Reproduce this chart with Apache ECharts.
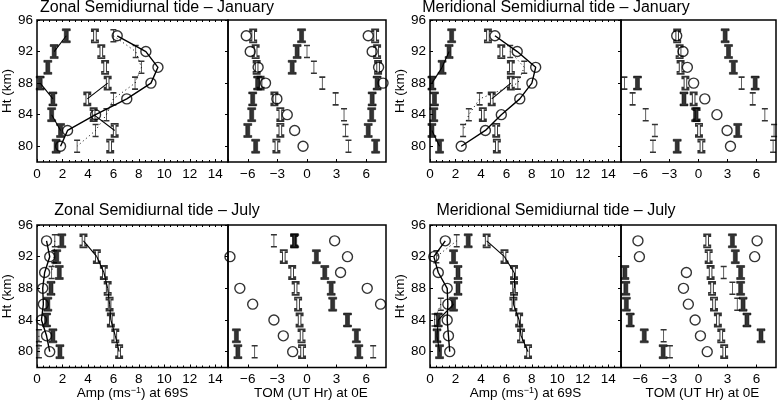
<!DOCTYPE html>
<html><head><meta charset="utf-8">
<script src="https://cdn.jsdelivr.net/npm/echarts@6/dist/echarts.min.js"></script>
<style>html,body{margin:0;padding:0;background:#fff}#c{width:778px;height:401px}</style>
</head><body><div id="c"></div>
<script>
// ---------------- data ----------------
const heights = [94, 92, 90, 88, 86, 84, 82, 80];
const ampTicks = [0, 2, 4, 6, 8, 10, 12, 14];
const phaseTicks = [-6, -3, 0, 3, 6];
const htTicks = [80, 84, 88, 92, 96];

// Zonal, January
const zonJanAmpFilled = [2.3, 1.35, 0.85, 0.25, 1.25, 1.15, 1.85, 1.5];
const zonJanAmpOpen   = [4.55, 5.05, 5.35, 5.55, 3.95, 4.45, 6.1, 5.75];
const zonJanAmpModel  = [6.3, 8.55, 9.5, 8.95, 7.05, 4.6, 2.4, 1.85];
const zonJanAmpThin   = [6.0, 7.75, 8.2, 7.7, 6.0, 5.45, 4.6, 3.15];
const zonJanFilledLinks = [1, 0, 0, 1, 0, 1, 0];
const zonJanOpenLinks   = [0, 0, 0, 1, 0, 1, 0];
const zonJanPhFilled  = [-0.55, -1.0, -1.5, -5.0, -5.5, -5.6, -6.0, -5.2];
const zonJanPhFilled2 = [null, null, null, 7.1, 6.6, 6.55, 6.2, 6.95];
const zonJanPhOpen    = [-5.45, -5.2, -5.1, -4.7, -3.3, -2.7, -2.7, -3.1];
const zonJanPhOpen2   = [6.9, 7.1, 7.2, null, null, null, null, null];
const zonJanPhModel   = [-6.15, -5.75, -4.95, -4.2, -3.05, -2.0, -1.25, -0.4];
const zonJanPhModel2  = [6.2, 6.6, 7.25, 7.7, null, null, null, null];
const zonJanPhThin    = [null, 0.0, 0.7, 1.55, 2.9, 3.75, 3.9, 4.2];
const zonJanPhThin2   = [null, null, null, null, null, null, null, null];

// Meridional, January
const merJanAmpFilled = [1.7, 1.5, 0.95, 0.15, 0.35, 0.3, 0.15, 0.75];
const merJanAmpOpen   = [4.55, 5.6, 6.35, 6.35, 4.85, 4.15, 5.2, 5.25];
const merJanAmpModel  = [5.1, 6.85, 8.3, 8.0, 7.05, 5.6, 4.35, 2.45];
const merJanAmpThin   = [null, 6.3, 7.4, 6.9, 3.9, 3.05, 2.6, null];
const merJanFilledLinks = [0, 1, 1, 0, 0, 0, 1];
const merJanOpenLinks   = [0, 0, 0, 1, 0, 0, 0];
const merJanPhFilled  = [2.75, 3.1, 3.6, -6.3, -1.5, -0.3, 4.05, -2.2];
const merJanPhFilled2 = [null, null, null, 5.85, null, null, null, null];
const merJanPhOpen    = [-2.2, -1.95, -1.85, -1.35, -0.5, -0.2, 0.05, 0.3];
const merJanPhOpen2   = [null, null, null, null, null, null, null, null];
const merJanPhModel   = [-2.25, -1.6, -1.15, -0.5, 0.65, 1.9, 2.95, 3.3];
const merJanPhModel2  = [null, null, null, null, null, null, null, null];
const merJanPhThin    = [null, null, null, -7.65, -6.8, -5.45, -4.5, -4.7];
const merJanPhThin2   = [null, null, null, 4.45, 5.6, 6.85, 7.8, 7.7];

// Zonal, July
const zonJulAmpFilled = [1.95, 1.55, 1.75, 1.1, 0.85, 0.75, 1.25, 1.8];
const zonJulAmpOpen   = [3.65, 4.7, 5.25, 5.55, 5.7, 5.8, 6.15, 6.45];
const zonJulAmpModel  = [0.75, 1.0, 0.6, 0.45, 0.5, 0.35, 0.75, 1.0];
const zonJulAmpThin   = [1.4, 1.35, 1.15, null, null, null, 0.15, 0.15];
const zonJulFilledLinks = [0, 0, 0, 0, 0, 0, 0];
const zonJulOpenLinks   = [1, 1, 1, 1, 1, 1, 1];
const zonJulPhFilled  = [-1.25, 0.95, 1.8, 2.45, 2.6, 4.1, -7.15, -7.0];
const zonJulPhFilled2 = [null, null, null, null, null, null, 5.0, 5.25];
const zonJulPhOpen    = [-1.3, -2.35, -1.5, -1.15, -0.9, -0.75, -0.55, -0.5];
const zonJulPhOpen2   = [null, null, null, null, null, null, null, null];
const zonJulPhModel   = [2.8, 4.1, 3.4, -6.8, -5.5, -3.35, -2.4, -1.45];
const zonJulPhModel2  = [null, -7.8, null, 6.1, 7.45, null, null, null];
const zonJulPhThin    = [-3.35, null, null, null, null, null, null, -5.3];
const zonJulPhThin2   = [null, null, null, null, null, null, null, 6.7];

// Meridional, July
const merJulAmpFilled = [3.0, 1.85, 2.2, 2.2, 1.85, 0.65, 0.55, 0.75];
const merJulAmpOpen   = [4.45, 5.85, 6.6, 6.6, 6.55, 7.0, 7.15, 7.7];
const merJulAmpModel  = [1.2, 0.3, 0.65, 1.35, 1.4, 1.35, 1.45, 1.55];
const merJulAmpThin   = [2.1, 0.5, null, null, 0.85, 0.35, null, null];
const merJulFilledLinks = [0, 0, 0, 0, 1, 1, 1];
const merJulOpenLinks   = [1, 1, 1, 1, 1, 1, 1];
const merJulPhFilled  = [3.5, 3.8, -7.6, -7.5, -7.45, -7.05, -5.6, -3.65];
const merJulPhFilled2 = [null, null, 4.35, 4.35, 4.6, 5.0, 6.45, null];
const merJulPhOpen    = [0.9, 1.05, 1.25, 1.4, 1.6, 2.0, 2.35, 2.65];
const merJulPhOpen2   = [null, null, null, null, null, null, null, null];
const merJulPhModel   = [-6.25, -6.1, -1.25, -1.55, -1.05, -0.35, 0.2, 0.9];
const merJulPhModel2  = [6.05, 5.8, null, null, null, null, null, null];
const merJulPhThin    = [null, null, 2.6, 3.5, 4.0, null, -3.6, -2.95];
const merJulPhThin2   = [null, null, null, null, null, null, null, null];

const titles = ['Zonal Semidiurnal tide \u2013 January', 'Meridional Semidiurnal tide \u2013 January',
                'Zonal Semidiurnal tide \u2013 July', 'Meridional Semidiurnal tide \u2013 July'];

// ---------------- assembly ----------------
const panels = [
  {amp: [zonJanAmpFilled, zonJanAmpOpen, zonJanAmpModel, zonJanAmpThin], links: [zonJanFilledLinks, zonJanOpenLinks],
   ph: [zonJanPhFilled, zonJanPhOpen, zonJanPhModel, zonJanPhThin], ph2: [zonJanPhFilled2, zonJanPhOpen2, zonJanPhModel2, zonJanPhThin2]},
  {amp: [merJanAmpFilled, merJanAmpOpen, merJanAmpModel, merJanAmpThin], links: [merJanFilledLinks, merJanOpenLinks],
   ph: [merJanPhFilled, merJanPhOpen, merJanPhModel, merJanPhThin], ph2: [merJanPhFilled2, merJanPhOpen2, merJanPhModel2, merJanPhThin2]},
  {amp: [zonJulAmpFilled, zonJulAmpOpen, zonJulAmpModel, zonJulAmpThin], links: [zonJulFilledLinks, zonJulOpenLinks],
   ph: [zonJulPhFilled, zonJulPhOpen, zonJulPhModel, zonJulPhThin], ph2: [zonJulPhFilled2, zonJulPhOpen2, zonJulPhModel2, zonJulPhThin2]},
  {amp: [merJulAmpFilled, merJulAmpOpen, merJulAmpModel, merJulAmpThin], links: [merJulFilledLinks, merJulOpenLinks],
   ph: [merJulPhFilled, merJulPhOpen, merJulPhModel, merJulPhThin], ph2: [merJulPhFilled2, merJulPhOpen2, merJulPhModel2, merJulPhThin2]}
];

const layout = [
  {left: 37, top: 20, ampW: 191, phW: 158, h: 142, tx: 157, ty: 8},
  {left: 430, top: 20, ampW: 191, phW: 155, h: 142, tx: 556, ty: 8},
  {left: 37, top: 225, ampW: 191, phW: 158, h: 142.5, tx: 157, ty: 211},
  {left: 430, top: 225, ampW: 191, phW: 155, h: 142.5, tx: 556, ty: 211}
];

const FONT = '"Liberation Sans", Arial, Helvetica, sans-serif';
const IBEAM = 'path://M0,0H8V2H6V12H8V14H0V12H2V2H0Z';
const IBEAM_OPEN = 'path://M0,0H8V2H5.5V12H8V14H0V12H2.5V2H0Z';
const THIN = 'path://M0,0H6M3,0V12M0,12H6';
const STY = [
  {symbol: IBEAM, symbolSize: [8, 14], itemStyle: {color: '#000', borderColor: '#000', borderWidth: 0.6}},
  {symbol: IBEAM_OPEN, symbolSize: [7, 13], itemStyle: {color: 'rgba(255,255,255,0)', borderColor: '#000', borderWidth: 1.3}},
  {symbol: 'circle', symbolSize: 10, itemStyle: {color: 'rgba(0,0,0,0)', borderColor: '#000', borderWidth: 1.4}},
  {symbol: THIN, symbolSize: [6, 12], itemStyle: {color: 'rgba(0,0,0,0)', borderColor: '#000', borderWidth: 1.1}}
];
const minus = v => String(v).replace('-', '\u2212');

const grid = [], xAxis = [], yAxis = [], series = [], graphic = [];
const pts = vals => heights.map((h, i) => [vals[i], h]).filter(p => p[0] !== null && p[0] !== undefined);

layout.forEach((L, k) => {
  const P = panels[k];
  const ga = 2 * k, gp = 2 * k + 1;
  grid.push({left: L.left, top: L.top, width: L.ampW, height: L.h, show: true, borderColor: '#000', borderWidth: 1.5, backgroundColor: 'transparent'});
  grid.push({left: L.left + L.ampW, top: L.top, width: L.phW, height: L.h, show: true, borderColor: '#000', borderWidth: 1.5, backgroundColor: 'transparent'});
  const lab = {color: '#000', fontSize: 13.5, fontFamily: FONT, margin: 5};
  xAxis.push({gridIndex: ga, type: 'value', min: 0, max: 15, interval: 2, axisLine: {show: false, onZero: false}, splitLine: {show: false},
    axisTick: {inside: true, length: 3, lineStyle: {color: '#000'}},
    minorTick: {show: true, splitNumber: 4, length: 2, lineStyle: {color: '#000', width: 1}},
    axisLabel: Object.assign({customValues: ampTicks}, lab)});
  xAxis.push({gridIndex: gp, type: 'value', min: -8, max: 8, axisLine: {show: false, onZero: false}, splitLine: {show: false},
    axisTick: {inside: true, length: 3, customValues: phaseTicks, lineStyle: {color: '#000'}},
    axisLabel: Object.assign({customValues: phaseTicks, formatter: minus}, lab)});
  // mirrored top ticks on the amplitude box
  xAxis.push({gridIndex: ga, type: 'value', position: 'top', min: 0, max: 15, interval: 0.5, axisLine: {show: false, onZero: false},
    splitLine: {show: false}, axisTick: {inside: true, length: 2, lineStyle: {color: '#000'}}, axisLabel: {show: false}});
  yAxis.push({gridIndex: ga, type: 'value', min: 78, max: 96, axisLine: {show: false, onZero: false}, splitLine: {show: false},
    axisTick: {inside: true, length: 3, customValues: htTicks, lineStyle: {color: '#000'}},
    axisLabel: Object.assign({customValues: htTicks}, lab, {margin: 4})});
  yAxis.push({gridIndex: gp, type: 'value', min: 78, max: 96, axisLine: {show: false, onZero: false}, splitLine: {show: false},
    axisTick: {inside: false, length: 3, customValues: htTicks, lineStyle: {color: '#000'}},
    axisLabel: {show: false}});
});

// series (x axes: 3 per panel -> amp = 3k, phase = 3k+1; y axes: amp = 2k, phase = 2k+1)
layout.forEach((L, k) => {
  const P = panels[k];
  const xa = 3 * k, xp = 3 * k + 1, ya = 2 * k, yp = 2 * k + 1;
  series.push({type: 'line', xAxisIndex: xa, yAxisIndex: ya, data: heights.map((h, i) => [P.amp[2][i], h]),
    symbol: 'none', lineStyle: {color: '#000', width: 1.4}, z: 2, silent: true});
  series.push({type: 'line', xAxisIndex: xa, yAxisIndex: ya, data: heights.map((h, i) => [P.amp[3][i] === null ? NaN : P.amp[3][i], h]),
    symbol: 'none', connectNulls: false, lineStyle: {color: '#000', width: 1, type: [1, 3]}, z: 2, silent: true});
  [0, 1].forEach(j => {
    const segs = [];
    P.links[j].forEach((on, i) => {
      if (on) segs.push({coords: [[P.amp[j][i], heights[i]], [P.amp[j][i + 1], heights[i + 1]]]});
    });
    series.push({type: 'lines', coordinateSystem: 'cartesian2d', xAxisIndex: xa, yAxisIndex: ya, data: segs,
      lineStyle: {color: '#000', width: 1.1, opacity: 1}, z: 2, silent: true});
  });
  [0, 1, 2, 3].forEach(j => {
    series.push(Object.assign({type: 'scatter', xAxisIndex: xa, yAxisIndex: ya, data: pts(P.amp[j]), z: 3, silent: true}, STY[j]));
  });
  [0, 1, 2, 3].forEach(j => {
    series.push(Object.assign({type: 'scatter', xAxisIndex: xp, yAxisIndex: yp, data: pts(P.ph[j]).concat(pts(P.ph2[j])), z: 3, silent: true}, STY[j]));
  });

  graphic.push({type: 'text', x: L.tx, y: L.ty, silent: true,
    style: {text: titles[k], font: '16px ' + FONT, fill: '#000', align: 'center', verticalAlign: 'middle'}});
  graphic.push({type: 'text', x: L.left - 30, y: L.top + L.h / 2, rotation: Math.PI / 2, silent: true,
    style: {text: 'Ht (km)', font: '13.5px ' + FONT, fill: '#000', align: 'center', verticalAlign: 'middle'}});
  if (k >= 2) {
    graphic.push({type: 'text', x: L.left + L.ampW / 2, y: L.top + L.h + 26, silent: true,
      style: {text: 'Amp (ms{s|\u22121}) at 69S', font: '13.5px ' + FONT, fill: '#000', align: 'center', verticalAlign: 'middle',
        rich: {s: {fontSize: 9, fontFamily: FONT, verticalAlign: 'top', lineHeight: 14}}}});
    graphic.push({type: 'text', x: L.left + L.ampW + L.phW / 2 + 4, y: L.top + L.h + 26, silent: true,
      style: {text: 'TOM (UT Hr) at 0E', font: '13.5px ' + FONT, fill: '#000', align: 'center', verticalAlign: 'middle'}});
  }
});

const chart = echarts.init(document.getElementById('c'), null, {renderer: 'canvas'});
chart.setOption({animation: false, backgroundColor: '#fff', grid, xAxis, yAxis, series, graphic});
</script>
</body></html>
